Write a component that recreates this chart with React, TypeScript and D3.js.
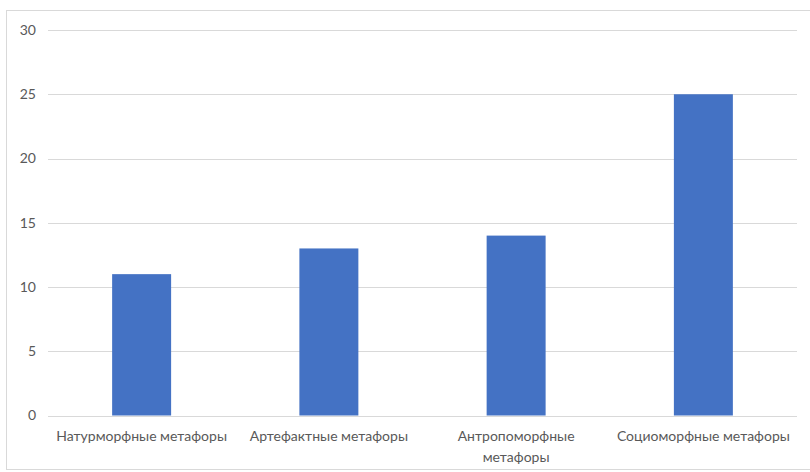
import React from "react";
import * as d3 from "d3";

const categories = [
  "Натурморфные метафоры",
  "Артефактные метафоры",
  "Антропоморфные метафоры",
  "Социоморфные метафоры",
];
const values = [11, 13, 14, 25];
const yTicks = [0, 5, 10, 15, 20, 25, 30];
const labelLines: Record<string, string[]> = {
  "Антропоморфные метафоры": ["Антропоморфные", "метафоры"],
};

const W = 810;
const H = 472;
const FONT = "Lato, 'Open Sans', sans-serif";

export default function App() {
  const x = d3
    .scaleBand<string>()
    .domain(categories)
    .range([48, 797])
    .paddingInner(0.685)
    .paddingOuter(0.3425);
  const y = d3.scaleLinear().domain([0, 30]).range([415.5, 30]);

  return (
    <div style={{ position: "absolute", left: 0, top: 0 }}>
      <svg width={W} height={H} style={{ display: "block", background: "#fff" }}>
        <rect x={6.5} y={10.5} width={W} height={459} fill="#fff" stroke="#d9d9d9" strokeWidth={1} />
        {yTicks.map((t) => (
          <g key={t}>
            <line x1={48} x2={797} y1={Math.round(y(t)) + 0.5} y2={Math.round(y(t)) + 0.5} stroke="#d9d9d9" strokeWidth={1} />
            <text
              x={36}
              y={y(t)}
              dy="0.35em"
              textAnchor="end"
              fontFamily={FONT}
              fontSize={14}
              fill="#595959"
            >
              {t}
            </text>
          </g>
        ))}
        {categories.map((c, i) => (
          <rect
            key={c}
            x={x(c)}
            y={y(values[i])}
            width={x.bandwidth()}
            height={y(0) - y(values[i])}
            fill="#4472C4"
          />
        ))}
        {categories.map((c) => {
          const lines = labelLines[c] || [c];
          const cx = (x(c) as number) + x.bandwidth() / 2;
          return (
            <text key={c} textAnchor="middle" fontFamily={FONT} fontSize={14} fill="#595959">
              {lines.map((l, j) => (
                <tspan key={j} x={cx} y={441 + j * 21}>
                  {l}
                </tspan>
              ))}
            </text>
          );
        })}
      </svg>
    </div>
  );
}
